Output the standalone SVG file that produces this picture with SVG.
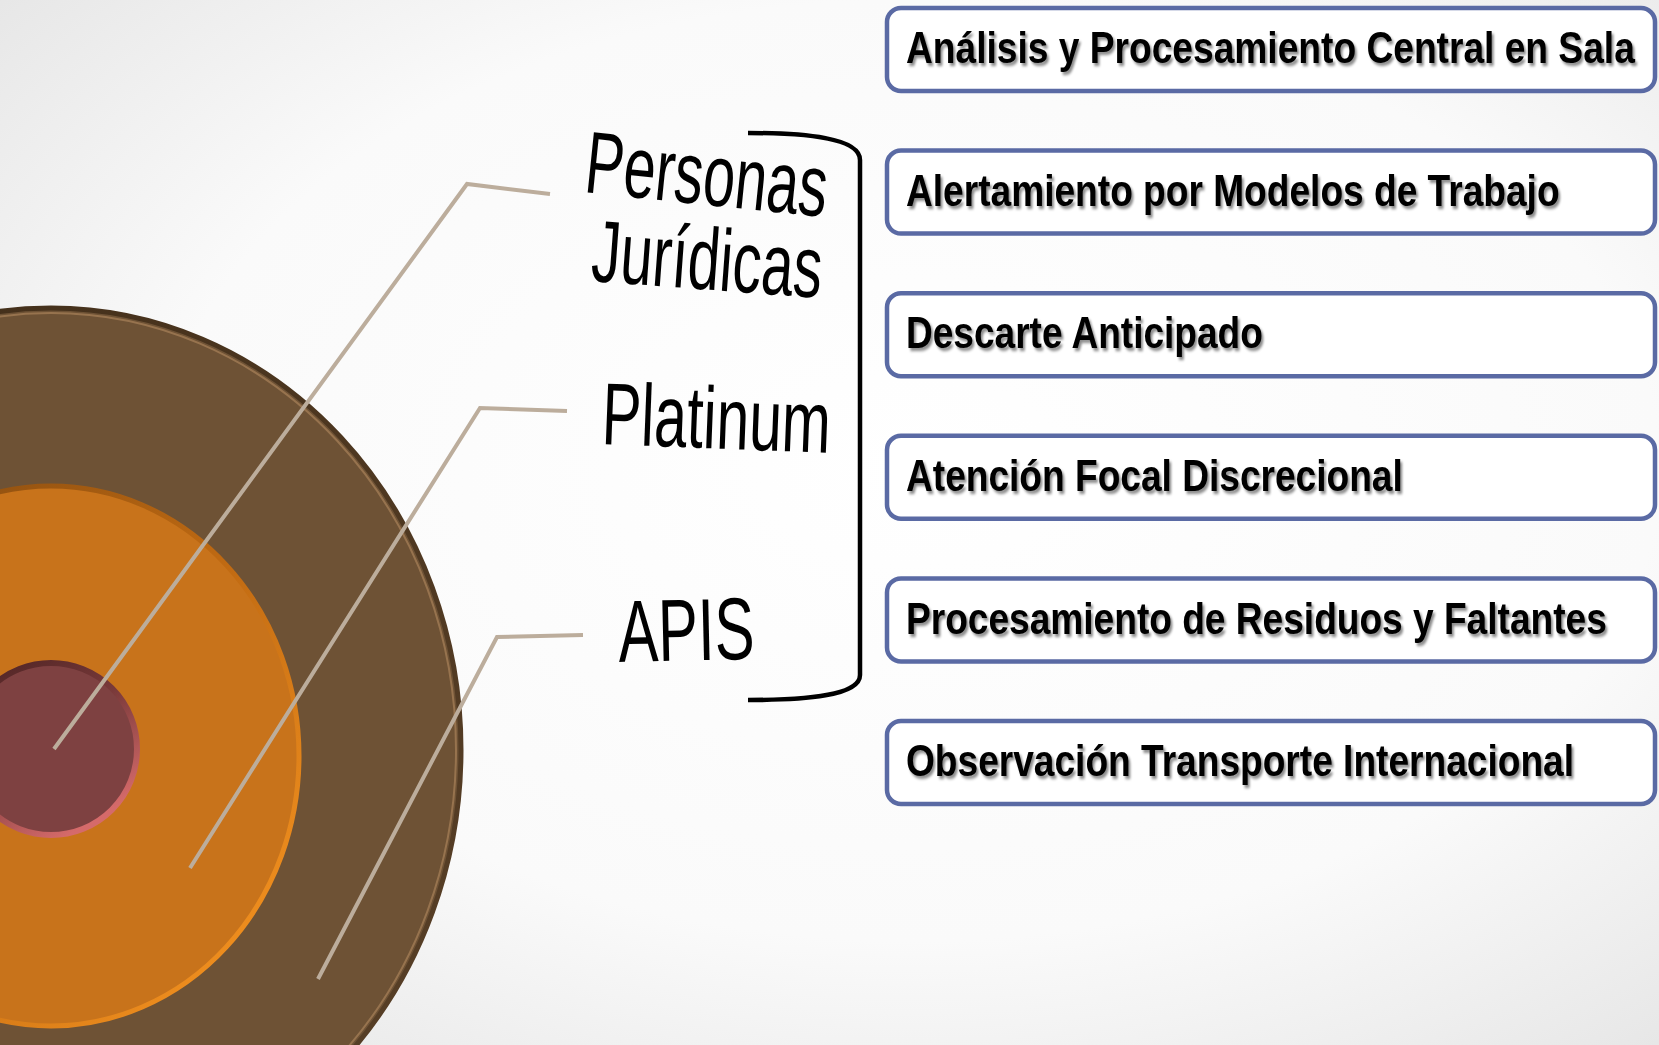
<svg xmlns="http://www.w3.org/2000/svg" width="1659" height="1045" viewBox="0 0 1659 1045">
  <defs>
    <radialGradient id="bg" cx="0.55" cy="0.45" r="0.75">
      <stop offset="0" stop-color="#ffffff"/>
      <stop offset="0.6" stop-color="#fafafa"/>
      <stop offset="1" stop-color="#e4e4e4"/>
    </radialGradient>
    <linearGradient id="brownRim" x1="0" y1="0" x2="1" y2="1">
      <stop offset="0" stop-color="#3f2c18"/>
      <stop offset="1" stop-color="#5a4128"/>
    </linearGradient>
    <linearGradient id="orangeRim" x1="0" y1="0" x2="1" y2="1">
      <stop offset="0" stop-color="#7a4510"/>
      <stop offset="0.5" stop-color="#c06a12"/>
      <stop offset="1" stop-color="#ff9a22"/>
    </linearGradient>
    <linearGradient id="redRim" x1="0" y1="0" x2="0.6" y2="1">
      <stop offset="0" stop-color="#4a2222"/>
      <stop offset="0.5" stop-color="#7a3a3a"/>
      <stop offset="1" stop-color="#d56a6a"/>
    </linearGradient>
    <filter id="shadow" x="-5%" y="-20%" width="110%" height="150%">
      <feDropShadow dx="2.5" dy="3" stdDeviation="1.5" flood-color="#000" flood-opacity="0.45"/>
    </filter>
    <style>
      .box { fill: #ffffff; stroke: #5a6aa4; stroke-width: 4.5; }
      .boxtxt { font-family: "Liberation Sans", Arial, sans-serif; font-weight: bold; font-size: 44px; fill: #000; }
      .lbl { font-family: "Liberation Sans", Arial, sans-serif; font-size: 88px; fill: #000; }
      .leader { fill: none; stroke: #bcad9c; stroke-width: 4; stroke-linejoin: miter; }
      .bracket { fill: none; stroke: #000; stroke-width: 4.5; }
    </style>
  </defs>

  <rect x="0" y="0" width="1659" height="1045" fill="url(#bg)"/>

  <g id="rings">
    <ellipse cx="51" cy="750" rx="410" ry="442" fill="#6e5235" stroke="url(#brownRim)" stroke-width="5"/>
    <ellipse cx="51" cy="750" rx="405" ry="437" fill="none" stroke="#a8825a" stroke-width="2" opacity="0.7"/>
    <ellipse cx="51" cy="756" rx="248" ry="270" fill="#c8731b" stroke="url(#orangeRim)" stroke-width="5"/>
    <circle cx="51" cy="749" r="86" fill="#7e4141" stroke="url(#redRim)" stroke-width="6"/>
  </g>

  <g id="connectors">
    <polyline class="leader" points="54,749 467,184 550,194"/>
    <polyline class="leader" points="190,868 480,408 567,411"/>
    <polyline class="leader" points="318,979 497,637 583,635"/>
    <path class="bracket" d="M748,133 C805,133 860,138 860,160 L860,675 C860,696 805,700 748,700"/>
  </g>

  <g id="label-personas">
    <text class="lbl" transform="translate(583,192) rotate(5.9)" textLength="243" lengthAdjust="spacingAndGlyphs">Personas</text>
    <text class="lbl" font-size="84" transform="translate(590,281) rotate(4.2)" textLength="231" lengthAdjust="spacingAndGlyphs">Jurídicas</text>
  </g>
  <g id="label-platinum">
    <text class="lbl" transform="translate(601,444) rotate(2.2)" textLength="229" lengthAdjust="spacingAndGlyphs">Platinum</text>
  </g>
  <g id="label-apis">
    <text class="lbl" transform="translate(619,662) rotate(-1.3)" textLength="136" lengthAdjust="spacingAndGlyphs">APIS</text>
  </g>

  <g id="box1">
    <rect class="box" x="887" y="8" width="768" height="83" rx="14"/>
    <text class="boxtxt" transform="translate(906,63) scale(0.8,1)" textLength="911" lengthAdjust="spacingAndGlyphs" filter="url(#shadow)">Análisis y Procesamiento Central en Sala</text>
  </g>
  <g id="box2">
    <rect class="box" x="887" y="150.6" width="768" height="83" rx="14"/>
    <text class="boxtxt" transform="translate(906,206) scale(0.8,1)" textLength="817" lengthAdjust="spacingAndGlyphs" filter="url(#shadow)">Alertamiento por Modelos de Trabajo</text>
  </g>
  <g id="box3">
    <rect class="box" x="887" y="293.2" width="768" height="83" rx="14"/>
    <text class="boxtxt" transform="translate(906,348) scale(0.8,1)" textLength="446" lengthAdjust="spacingAndGlyphs" filter="url(#shadow)">Descarte Anticipado</text>
  </g>
  <g id="box4">
    <rect class="box" x="887" y="435.8" width="768" height="83" rx="14"/>
    <text class="boxtxt" transform="translate(906,491) scale(0.8,1)" textLength="621" lengthAdjust="spacingAndGlyphs" filter="url(#shadow)">Atención Focal Discrecional</text>
  </g>
  <g id="box5">
    <rect class="box" x="887" y="578.4" width="768" height="83" rx="14"/>
    <text class="boxtxt" transform="translate(906,634) scale(0.8,1)" textLength="876" lengthAdjust="spacingAndGlyphs" filter="url(#shadow)">Procesamiento de Residuos y Faltantes</text>
  </g>
  <g id="box6">
    <rect class="box" x="887" y="721" width="768" height="83" rx="14"/>
    <text class="boxtxt" transform="translate(906,776) scale(0.8,1)" textLength="835" lengthAdjust="spacingAndGlyphs" filter="url(#shadow)">Observación Transporte Internacional</text>
  </g>
</svg>
